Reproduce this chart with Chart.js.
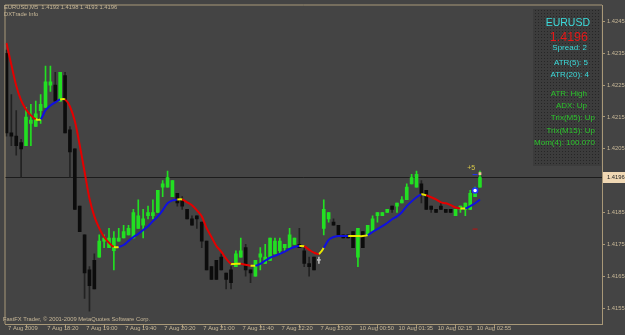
<!DOCTYPE html>
<html>
<head>
<meta charset="utf-8">
<script src="https://cdn.jsdelivr.net/npm/chart.js@4"></script>
<style>
  html, body { margin: 0; padding: 0; background: #444444; }
  #wrap { width: 625px; height: 335px; }
</style>
</head>
<body>
<div id="wrap"><canvas id="chart" width="625" height="335"></canvas></div>
<script>
// EURUSD M5, 7-10 Aug 2009
const symbol = 'EURUSD';
const period = 'M5';

const opens = [1.4235,1.4210,1.4209,1.4207,1.4206,1.4213,1.4212,1.4217,1.4218,1.4225,
  1.4225,1.4220,1.4228,1.4211,1.4205,1.4187,1.4178,1.4167,1.4170,1.4171,
  1.4176,1.4174,1.4173,1.4176,1.4177,1.4178,1.4177,1.4180,1.4181,1.4184,
  1.4184,1.4185,1.4193,1.4193,1.4190,1.4191,1.4189,1.4186,1.4183,1.4184,
  1.4182,1.4176,1.4168,1.4170,1.4171,1.4166,1.4167,1.4168,1.4171,1.4174,
  1.4167,1.4165,1.4171,1.4169,1.4170,1.4172,1.4173,1.4174,1.4174,1.4175,
  1.4175,1.4173,1.4169,1.4171,1.4170,1.4180,1.4183,1.4182,1.4181,1.4178,
  1.4178,1.4179,1.4171,1.4179,1.4178,1.4179,1.4184,1.4184,1.4185,1.4187,
  1.4187,1.4188,1.4189,1.4194,1.4193,1.4194,1.4192,1.4187,1.4186,1.4187,
  1.4186,1.4186,1.4184,1.4186,1.4186,1.4186,1.4190,1.4193];
const highs = [1.4236,1.4222,1.4217,1.4208,1.4218,1.4219,1.4220,1.4222,1.4231,1.4231,
  1.4229,1.4229,1.4229,1.4212,1.4205,1.4187,1.4178,1.4168,1.4172,1.4178,
  1.4178,1.4180,1.4179,1.4180,1.4181,1.4181,1.4186,1.4189,1.4186,1.4187,
  1.4189,1.4192,1.4195,1.4198,1.4195,1.4191,1.4190,1.4186,1.4184,1.4184,
  1.4182,1.4176,1.4168,1.4170,1.4172,1.4166,1.4168,1.4173,1.4177,1.4175,
  1.4167,1.4170,1.4174,1.4175,1.4177,1.4177,1.4177,1.4175,1.4180,1.4177,
  1.4180,1.4174,1.4171,1.4171,1.4171,1.4189,1.4185,1.4183,1.4181,1.4178,
  1.4178,1.4179,1.4180,1.4179,1.4181,1.4184,1.4185,1.4185,1.4186,1.4187,
  1.4188,1.4190,1.4194,1.4197,1.4198,1.4195,1.4192,1.4187,1.4186,1.4188,
  1.4186,1.4186,1.4186,1.4187,1.4188,1.4192,1.4193,1.4198];
const lows = [1.4209,1.4206,1.4203,1.4196,1.4206,1.4206,1.4212,1.4213,1.4218,1.4223,
  1.4220,1.4220,1.4210,1.4196,1.4186,1.4179,1.4158,1.4154,1.4161,1.4171,
  1.4174,1.4174,1.4167,1.4176,1.4177,1.4178,1.4177,1.4180,1.4177,1.4183,
  1.4183,1.4185,1.4190,1.4193,1.4190,1.4187,1.4186,1.4183,1.4181,1.4180,
  1.4174,1.4167,1.4164,1.4164,1.4167,1.4161,1.4161,1.4168,1.4171,1.4165,
  1.4163,1.4165,1.4167,1.4169,1.4170,1.4172,1.4172,1.4173,1.4174,1.4175,
  1.4174,1.4168,1.4165,1.4167,1.4169,1.4178,1.4182,1.4181,1.4178,1.4177,
  1.4177,1.4174,1.4168,1.4174,1.4178,1.4179,1.4182,1.4184,1.4185,1.4185,
  1.4185,1.4188,1.4189,1.4194,1.4193,1.4188,1.4186,1.4185,1.4185,1.4186,
  1.4185,1.4185,1.4184,1.4185,1.4184,1.4186,1.4190,1.4193];
const closes = [1.4210,1.4209,1.4206,1.4205,1.4215,1.4214,1.4216,1.4219,1.4226,1.4226,
  1.4220,1.4229,1.4210,1.4204,1.4186,1.4179,1.4166,1.4162,1.4161,1.4176,
  1.4177,1.4177,1.4177,1.4177,1.4179,1.4180,1.4185,1.4184,1.4183,1.4185,
  1.4185,1.4192,1.4194,1.4196,1.4195,1.4188,1.4187,1.4183,1.4181,1.4183,
  1.4176,1.4167,1.4164,1.4164,1.4167,1.4164,1.4163,1.4172,1.4173,1.4167,
  1.4166,1.4170,1.4172,1.4171,1.4177,1.4176,1.4176,1.4175,1.4178,1.4177,
  1.4174,1.4169,1.4168,1.4167,1.4170,1.4186,1.4185,1.4181,1.4178,1.4177,
  1.4177,1.4174,1.4180,1.4174,1.4181,1.4183,1.4185,1.4185,1.4186,1.4186,
  1.4188,1.4189,1.4193,1.4196,1.4197,1.4191,1.4186,1.4186,1.4185,1.4186,
  1.4185,1.4185,1.4186,1.4187,1.4188,1.4191,1.4192,1.4196];

// trend line indicator, and its state per bar: -1 down (red), 0 turn (yellow), 1 up (blue)
const maValues = [1.42382,1.42314,1.42248,1.42202,1.42174,1.42155,1.42143,1.42143,1.42171,1.42186,
  1.42196,1.42205,1.42205,1.42183,1.42137,1.42062,1.41978,1.41894,1.41838,1.41801,
  1.41773,1.41755,1.41742,1.41742,1.41748,1.41761,1.41773,1.41783,1.41795,1.41807,
  1.41823,1.41838,1.41857,1.41879,1.41888,1.41891,1.41891,1.41882,1.41873,1.41857,
  1.41838,1.41801,1.41773,1.41745,1.41727,1.41705,1.41689,1.41689,1.41689,1.41686,
  1.41683,1.41683,1.41689,1.41699,1.41708,1.41714,1.41720,1.41727,1.41736,1.41742,
  1.41745,1.41744,1.41733,1.41724,1.41720,1.41739,1.41764,1.41773,1.41776,1.41776,
  1.41776,1.41776,1.41776,1.41776,1.41779,1.41789,1.41798,1.41807,1.41817,1.41829,
  1.41838,1.41851,1.41870,1.41885,1.41898,1.41907,1.41904,1.41898,1.41891,1.41882,
  1.41879,1.41873,1.41866,1.41863,1.41863,1.41870,1.41879,1.41891];
const maTrend = [-1,-1,-1,-1,-1,-1,-1,0,1,1,
  1,1,0,-1,-1,-1,-1,-1,-1,-1,
  -1,-1,-1,0,1,1,1,1,1,1,
  1,1,1,1,1,1,0,-1,-1,-1,
  -1,-1,-1,-1,-1,-1,-1,0,0,-1,
  -1,0,1,1,1,1,1,1,1,1,
  1,0,-1,-1,-1,0,1,1,1,1,
  1,0,0,0,0,1,1,1,1,1,
  1,1,1,1,1,1,0,-1,-1,-1,
  -1,-1,-1,-1,0,1,1,1];

const xTickIdx = [0, 8, 16, 24, 32, 40, 48, 56, 64, 72, 80, 88, 96];
const xTickLabels = ['7 Aug 2009', '7 Aug 18:20', '7 Aug 19:00', '7 Aug 19:40', '7 Aug 20:20',
  '7 Aug 21:00', '7 Aug 21:40', '7 Aug 22:20', '7 Aug 23:00', '10 Aug 00:50',
  '10 Aug 01:35', '10 Aug 02:15', '10 Aug 02:55'];
const yTicks = [1.4155, 1.4165, 1.4175, 1.4185, 1.4195, 1.4205, 1.4215, 1.4225, 1.4235, 1.4245];

const bidPrice = 1.4196;
const spread = 2;
const atr5 = 5, atr20 = 4;
const momentum = '100.070';

// small signal marks near the last bars
const blueDots = [{x: 96, y: 1.41919}];
const blueDashes = [{x: 96, y: 1.41969}];
const redDashes = [{x: 96, y: 1.41798}];
const askMarks = [{x: 97, y: 1.41972}];
const plusLabel = {x: 94.4, y: 1.41990, text: '+' + atr5};

const bullCol = '#22e022';
const bearCol = '#0c0c0c';
const dojiCol = '#b8b8b8';
const axisCol = '#a89878';
const textCol = '#c8b898';
const FONT = '"Liberation Sans", Arial, sans-serif';

const trendCol = t => t < 0 ? '#e40000' : (t > 0 ? '#1010e0' : '#e8e800');
const candleCol = (i, bearWick) => closes[i] > opens[i] ? bullCol :
  (closes[i] < opens[i] ? (bearWick ? '#222222' : bearCol) : dojiCol);

const idx = opens.map((v, i) => i);

// panel with dotted look
const dots = document.createElement('canvas');
dots.width = 3; dots.height = 3;
const dctx = dots.getContext('2d');
dctx.fillStyle = '#3c3c3c'; dctx.fillRect(0, 0, 3, 3);
dctx.fillStyle = '#262626'; dctx.fillRect(1, 1, 1, 1);

const mt4Look = {
  id: 'mt4Look',
  beforeDraw(chart) {
    const ctx = chart.ctx;
    ctx.save();
    ctx.fillStyle = '#444444';
    ctx.fillRect(0, 0, chart.width, chart.height);
    ctx.restore();
  },
  beforeDatasetsDraw(chart) {
    const {ctx, chartArea: a, scales} = chart;
    ctx.save();
    // frame top & left
    ctx.strokeStyle = axisCol;
    ctx.lineWidth = 1;
    ctx.beginPath();
    ctx.moveTo(a.left - 0.5, a.bottom);
    ctx.lineTo(a.left - 0.5, a.top - 0.5);
    ctx.lineTo(a.right, a.top - 0.5);
    ctx.stroke();
    // bid line
    const by = Math.round(scales.y.getPixelForValue(bidPrice)) + 0.5;
    ctx.strokeStyle = '#1c1c1c';
    ctx.beginPath();
    ctx.moveTo(a.left, by);
    ctx.lineTo(a.right, by);
    ctx.stroke();
    // info panel
    ctx.fillStyle = ctx.createPattern(dots, 'repeat');
    ctx.fillRect(533, 9, 68, 157);
    ctx.restore();
  },
  afterDraw(chart) {
    const {ctx, chartArea: a, scales} = chart;
    const last = opens.length - 1;
    ctx.save();
    ctx.textBaseline = 'alphabetic';
    ctx.textAlign = 'left';
    ctx.fillStyle = textCol;
    ctx.font = '5.8px ' + FONT;
    ctx.fillText(symbol + ',' + period + '  ' + opens[last].toFixed(4) + ' ' + highs[last].toFixed(4) +
      ' ' + lows[last].toFixed(4) + ' ' + closes[last].toFixed(4), 4, 8.5);
    ctx.fillText('DXTrade Info', 4, 15.5);
    ctx.fillText('FastFX Trader, \u00a9 2001-2009 MetaQuotes Software Corp.', 3, 321);

    // price label on the axis
    const by = Math.round(scales.y.getPixelForValue(bidPrice));
    ctx.fillStyle = '#f0d8b4';
    ctx.fillRect(a.right + 1, by - 5, chart.width - a.right - 1, 11);
    ctx.fillStyle = '#202020';
    ctx.textBaseline = 'middle';
    ctx.fillText(bidPrice.toFixed(4), a.right + 5, by + 0.5);

    // +5 label
    ctx.fillStyle = '#d8c848';
    ctx.font = '7px ' + FONT;
    ctx.fillText(plusLabel.text, scales.x.getPixelForValue(plusLabel.x), scales.y.getPixelForValue(plusLabel.y));

    // info panel text
    ctx.textBaseline = 'alphabetic';
    ctx.textAlign = 'right';
    const cyan = '#3cdcdc', green = '#2cc42c';
    const lines = [
      [symbol, cyan, 10.5, 26, 590],
      [bidPrice.toFixed(4), '#e41818', 12.5, 40.5, 588],
      ['Spread: ' + spread, cyan, 8, 50, 587],
      ['ATR(5): ' + atr5, cyan, 8, 65, 588],
      ['ATR(20): ' + atr20, cyan, 8, 77, 589],
      ['ATR: High', green, 8, 96, 587],
      ['ADX: Up', green, 8, 108, 587],
      ['Trix(M5): Up', green, 8, 120, 595],
      ['Trix(M15): Up', green, 8, 132.5, 595],
      ['Mom(4): ' + momentum, green, 8, 145, 595]
    ];
    lines.forEach(l => {
      ctx.fillStyle = l[1];
      ctx.font = l[2] + 'px ' + FONT;
      ctx.fillText(l[0], l[4], l[3]);
    });
    ctx.restore();
  }
};

const tickFont = {family: FONT, size: 5.8};

new Chart(document.getElementById('chart'), {
  type: 'bar',
  data: {
    datasets: [
      {
        type: 'line',
        data: maValues.map((v, i) => ({x: i, y: v})),
        borderWidth: 2,
        pointRadius: 0,
        tension: 0.3,
        segment: { borderColor: c => trendCol(maTrend[c.p1DataIndex]) },
        order: 0
      },
      {
        type: 'line', showLine: false,
        data: blueDots,
        pointStyle: 'circle', pointRadius: 2.5,
        pointBackgroundColor: '#ffffff', pointBorderColor: '#2030ff', pointBorderWidth: 1.5,
        order: -1
      },
      {
        type: 'line', showLine: false,
        data: blueDashes,
        pointStyle: 'line', pointRadius: 2.5, pointBorderColor: '#2030ff', pointBorderWidth: 1,
        order: -1
      },
      {
        type: 'line', showLine: false,
        data: redDashes,
        pointStyle: 'line', pointRadius: 2.5, pointBorderColor: '#c01010', pointBorderWidth: 1,
        order: -1
      },
      {
        type: 'line', showLine: false,
        data: askMarks,
        pointStyle: 'rect', pointRadius: 2, pointBackgroundColor: '#f0c890', pointBorderWidth: 0,
        order: -1
      },
      {
        // bodies
        data: idx.map(i => ({x: i, y: [opens[i], closes[i]]})),
        backgroundColor: idx.map(i => candleCol(i, false)),
        barThickness: 3,
        minBarLength: 1,
        grouped: false,
        order: 1
      },
      {
        // wicks
        data: idx.map(i => ({x: i, y: [lows[i], highs[i]]})),
        backgroundColor: idx.map(i => candleCol(i, true)),
        barThickness: 1,
        minBarLength: 1,
        grouped: false,
        order: 2
      }
    ]
  },
  options: {
    responsive: false,
    animation: false,
    layout: { padding: { left: 2, top: 2, right: 0, bottom: 0 } },
    plugins: { legend: { display: false }, tooltip: { enabled: false } },
    scales: {
      x: {
        type: 'linear',
        min: -0.2,
        max: 122,
        offset: false,
        grid: { drawOnChartArea: false, drawTicks: true, tickLength: 4, color: axisCol },
        border: { display: true, color: axisCol },
        ticks: {
          color: textCol, font: tickFont, align: 'start', padding: -3,
          maxRotation: 0, autoSkip: false,
          callback: v => {
            const k = xTickIdx.indexOf(v);
            return k < 0 ? '' : ' ' + xTickLabels[k];
          }
        },
        afterBuildTicks: s => { s.ticks = xTickIdx.map(v => ({value: v})); },
        afterFit: s => { s.height = 11; s.paddingLeft = 0; s.paddingRight = 0; }
      },
      y: {
        position: 'right',
        min: 1.4150,
        max: 1.4250,
        grid: { drawOnChartArea: false, drawTicks: true, tickLength: 3, color: axisCol },
        border: { display: true, color: axisCol },
        ticks: { color: textCol, font: tickFont, padding: 2, callback: v => v.toFixed(4) },
        afterBuildTicks: s => { s.ticks = yTicks.map(v => ({value: v})); },
        afterFit: s => { s.width = 23; s.paddingTop = 0; s.paddingBottom = 0; }
      }
    }
  },
  plugins: [mt4Look]
});
</script>
</body>
</html>
